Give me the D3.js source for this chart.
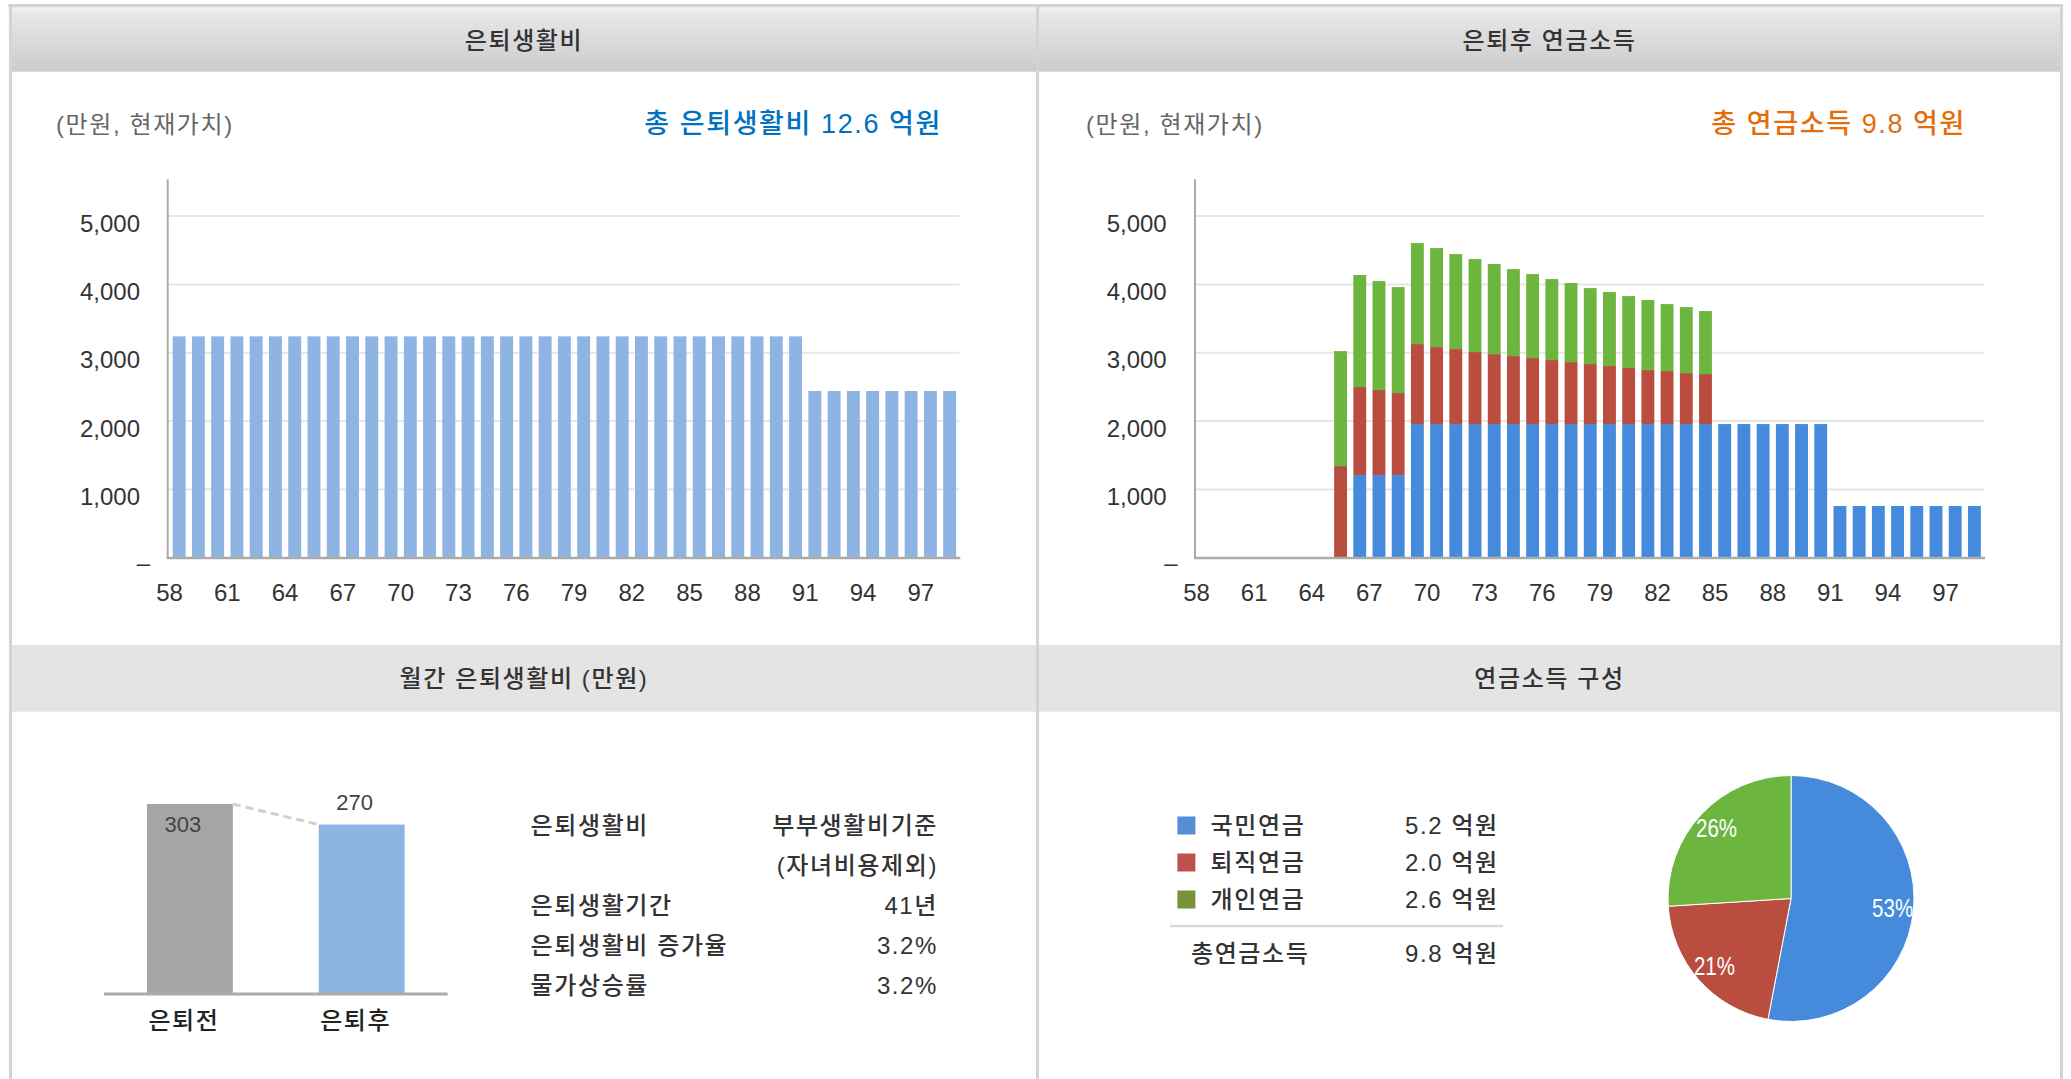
<!DOCTYPE html>
<html><head><meta charset="utf-8">
<script src="https://cdn.jsdelivr.net/npm/d3@7"></script>
<style>
html,body{margin:0;padding:0;background:#fff;}
svg{display:block;}
text{font-family:"Liberation Sans","Noto Sans CJK KR",sans-serif;fill:#333;}
.ko{letter-spacing:1.6px;font-weight:500;}
</style></head><body>
<svg id="c" width="2071" height="1079"></svg>
<script>
// ---------- data ----------
const ages = [58,59,60,61,62,63,64,65,66,67,68,69,70,71,72,73,74,75,76,77,78,79,80,81,82,83,84,85,86,87,88,89,90,91,92,93,94,95,96,97,98];
const xTickAges = [58,61,64,67,70,73,76,79,82,85,88,91,94,97];
const yTicks = [0,1000,2000,3000,4000,5000];
// 은퇴생활비 (만원, 현재가치)
const livingCost = [3240,3240,3240,3240,3240,3240,3240,3240,3240,3240,3240,3240,3240,3240,3240,3240,3240,3240,3240,3240,3240,3240,3240,3240,3240,3240,3240,3240,3240,3240,3240,3240,3240,2440,2440,2440,2440,2440,2440,2440,2440];
// 은퇴후 연금소득
const nationalPension = [0,0,0,0,0,0,0,0,1210,1210,1210,1956,1956,1956,1956,1956,1956,1956,1956,1956,1956,1956,1956,1956,1956,1956,1956,1956,1956,1956,1956,1956,1956,757,757,757,757,757,757,757,757];
const retirementPension = [0,0,0,0,0,0,0,1341,1288,1244,1200,1171,1127,1098,1054,1024,995,966,937,907,878,849,820,790,776,746,732,0,0,0,0,0,0,0,0,0,0,0,0,0,0];
const personalPension = [0,0,0,0,0,0,0,1683,1639,1595,1551,1478,1449,1390,1361,1318,1273,1229,1185,1157,1112,1083,1053,1025,980,966,922,0,0,0,0,0,0,0,0,0,0,0,0,0,0];
// 월간 은퇴생활비
const monthlyCats = ["은퇴전","은퇴후"];
const monthlyValues = [303, 270];
// 표
const infoLabels = ["은퇴생활비","","은퇴생활기간","은퇴생활비 증가율","물가상승률"];
const infoValues = ["부부생활비기준","(자녀비용제외)","41년","3.2%","3.2%"];
// 연금소득 구성
const pensionNames = ["국민연금","퇴직연금","개인연금"];
const pensionAmounts = ["5.2 억원","2.0 억원","2.6 억원"];
const pensionShares = [53, 21, 26];
const pensionTotalLabel = "총연금소득";
const pensionTotal = "9.8 억원";
const panelTitles = ["은퇴생활비","은퇴후 연금소득","월간 은퇴생활비 (만원)","연금소득 구성"];

// ---------- styles ----------
const C = {
  lightBlue:"#8DB4E2", gray:"#A6A6A6",
  blue:"#468BDB", red:"#B84D40", green:"#6CB640",
  legBlue:"#558ED5", legRed:"#C0504D", legGreen:"#77933C",
  border:"#D3D3D3", grid:"#E6E6E6", axis:"#ABABAB"
};
const FS = 24;

const svg = d3.select("#c");
const defs = svg.append("defs");
const grad = defs.append("linearGradient").attr("id","hdr").attr("x1",0).attr("y1",0).attr("x2",0).attr("y2",1);
grad.append("stop").attr("offset",0).attr("stop-color","#ececec");
grad.append("stop").attr("offset",0.04).attr("stop-color","#f3f3f3");
grad.append("stop").attr("offset",0.08).attr("stop-color","#e8e8e8");
grad.append("stop").attr("offset",1).attr("stop-color","#cbcbcb");

// headers
svg.append("rect").attr("x",10).attr("y",7).attr("width",2053).attr("height",64.7).attr("fill","url(#hdr)");
svg.append("rect").attr("x",10).attr("y",645).attr("width",2053).attr("height",66.7).attr("fill","#e4e4e4");
svg.append("rect").attr("x",8).attr("y",4).attr("width",2055).attr("height",3).attr("fill",C.border);
[10.5,1037.5,2061.5].forEach(x=>{
  svg.append("line").attr("x1",x).attr("x2",x).attr("y1",4).attr("y2",1079).attr("stroke",C.border).attr("stroke-width",3);
});
const titlePos = [[524,40],[1549.5,40],[524,678],[1549.5,678]];
svg.selectAll(".ptitle").data(panelTitles).join("text").attr("class","ptitle ko")
  .attr("x",(d,i)=>titlePos[i][0]).attr("y",(d,i)=>titlePos[i][1])
  .attr("text-anchor","middle").attr("dominant-baseline","central")
  .style("font-size","24px").style("fill","#333").text(d=>d);

// subtitles
[[56,"#0070C0",942,"총 은퇴생활비 12.6 억원"],[1086,"#E46C0A",1966,"총 연금소득 9.8 억원"]].forEach(([sx,col,rx,t])=>{
  svg.append("text").attr("class","ko").attr("x",sx).attr("y",124).attr("dominant-baseline","central")
    .style("font-size","24px").style("fill","#666").style("font-weight","400").text("(만원, 현재가치)");
  svg.append("text").attr("class","ko").attr("x",rx).attr("y",124).attr("dominant-baseline","central").attr("text-anchor","end")
    .style("font-size","27px").style("fill",col).text(t);
});

// ---------- bar chart frame ----------
function frame(axisX, x0, x1, labelRight, zeroRight) {
  const y = d3.scaleLinear().domain([0,5540]).range([557.7,179.2]);
  const x = d3.scaleBand().domain(ages).range([x0,x1]).paddingInner(0.33).paddingOuter(0.165);
  const g = svg.append("g");
  g.selectAll(".grid").data(yTicks.filter(d=>d>0)).join("line")
    .attr("x1",axisX).attr("x2",x1).attr("y1",d=>y(d)).attr("y2",d=>y(d))
    .attr("stroke",C.grid).attr("stroke-width",2);
  const ya = g.append("g").attr("transform",`translate(${labelRight},0)`)
    .call(d3.axisLeft(y).tickValues(yTicks).tickSize(0).tickPadding(0).tickFormat(d=>d===0?"–":d3.format(",")(d)));
  ya.select(".domain").remove();
  ya.selectAll("text").style("font-size",FS+"px").style("fill","#333")
    .attr("font-family",null)
    .attr("y",d=>d===0?5.1:7.3)
    .attr("x",d=>d===0?(zeroRight-labelRight):0);
  const xa = g.append("g").attr("transform",`translate(${-x.step()/2},593)`)
    .call(d3.axisBottom(x).tickValues(xTickAges).tickSize(0).tickPadding(0));
  xa.select(".domain").remove();
  xa.selectAll("text").style("font-size",FS+"px").style("fill","#333").attr("font-family",null).attr("y",0).attr("dy","0.35em");
  return {g,x,y};
}
function axisLines(g, axisX, x1, y) {
  g.append("line").attr("x1",axisX).attr("x2",axisX).attr("y1",y.range()[1]).attr("y2",y(0)+1)
    .attr("stroke",C.axis).attr("stroke-width",2);
  g.append("line").attr("x1",axisX-1).attr("x2",x1+1).attr("y1",y(0)+0.3).attr("y2",y(0)+0.3)
    .attr("stroke",C.axis).attr("stroke-width",2.4);
}

// left chart
{
  const {g,x,y} = frame(167.7,169.5,959.3,140,150);
  g.selectAll(".bar").data(ages.map((a,i)=>({a,v:livingCost[i]}))).join("rect")
    .attr("x",d=>x(d.a)).attr("width",x.bandwidth())
    .attr("y",d=>y(d.v)).attr("height",d=>y(0)-y(d.v)).attr("fill",C.lightBlue);
  axisLines(g,167.7,959.3,y);
}
// right chart
{
  const {g,x,y} = frame(1195,1196.5,1984,1166.7,1177.7);
  const rows = ages.map((a,i)=>({age:a,national:nationalPension[i],retirement:retirementPension[i],personal:personalPension[i]}));
  const series = d3.stack().keys(["national","retirement","personal"])(rows);
  const cols = [C.blue,C.red,C.green];
  g.selectAll(".s").data(series).join("g").attr("fill",(d,i)=>cols[i])
    .selectAll("rect").data(d=>d.filter(p=>p[1]-p[0]>0)).join("rect")
    .attr("x",d=>x(d.data.age)).attr("width",x.bandwidth())
    .attr("y",d=>y(d[1])).attr("height",d=>y(d[0])-y(d[1]));
  axisLines(g,1195,1984,y);
}

// ---------- monthly bars ----------
{
  const x = d3.scaleBand().domain(monthlyCats).range([104,447.6]).paddingInner(0.5).paddingOuter(0.25);
  const y = d3.scaleLinear().domain([0,400]).range([993,993-249.5]);
  const g = svg.append("g");
  const cols = [C.gray, C.lightBlue];
  g.selectAll("rect").data(monthlyValues).join("rect")
    .attr("x",(d,i)=>x(monthlyCats[i])).attr("width",x.bandwidth())
    .attr("y",d=>y(d)).attr("height",d=>y(0)-y(d)).attr("fill",(d,i)=>cols[i]);
  g.append("line")
    .attr("x1",x(monthlyCats[0])+x.bandwidth()).attr("y1",y(monthlyValues[0]))
    .attr("x2",x(monthlyCats[1])).attr("y2",y(monthlyValues[1]))
    .attr("stroke","#d0d0d0").attr("stroke-width",3).attr("stroke-dasharray","8,5");
  g.append("line").attr("x1",104).attr("x2",447.6).attr("y1",y(0)+1).attr("y2",y(0)+1)
    .attr("stroke",C.axis).attr("stroke-width",3);
  const lblY = [y(monthlyValues[1]), y(monthlyValues[0])-2];
  g.selectAll(".vl").data(monthlyValues).join("text")
    .attr("x",(d,i)=>x(monthlyCats[i])+x.bandwidth()/2-7).attr("y",(d,i)=>lblY[i])
    .attr("text-anchor","middle").attr("dominant-baseline","central")
    .style("font-size","22px").style("fill","#444").text(d=>d);
  g.selectAll(".cl").data(monthlyCats).join("text").attr("class","ko")
    .attr("x",d=>x(d)+x.bandwidth()/2-6).attr("y",1020)
    .attr("text-anchor","middle").attr("dominant-baseline","central")
    .style("font-size","24px").style("fill","#222").text(d=>d);
}

// info table
svg.selectAll(".il").data(infoLabels).join("text").attr("class","ko")
  .attr("x",530.6).attr("y",(d,i)=>825+i*40).attr("dominant-baseline","central")
  .style("font-size","24px").style("fill","#333").text(d=>d);
svg.selectAll(".iv").data(infoValues).join("text").attr("class","ko")
  .attr("x",938).attr("y",(d,i)=>825+i*40).attr("dominant-baseline","central").attr("text-anchor","end")
  .style("font-size","24px").style("fill","#333").text(d=>d);

// ---------- pension legend ----------
{
  const rowsY = [825.5,862.5,899.5];
  const lc = [C.legBlue,C.legRed,C.legGreen];
  svg.selectAll(".lsq").data(pensionNames).join("rect")
    .attr("x",1177.4).attr("y",(d,i)=>rowsY[i]-9).attr("width",18).attr("height",18).attr("fill",(d,i)=>lc[i]);
  svg.selectAll(".lnm").data(pensionNames).join("text").attr("class","ko")
    .attr("x",1210.6).attr("y",(d,i)=>rowsY[i]).attr("dominant-baseline","central")
    .style("font-size","24px").text(d=>d);
  svg.selectAll(".lam").data(pensionAmounts).join("text").attr("class","ko")
    .attr("x",1405).attr("y",(d,i)=>rowsY[i]).attr("dominant-baseline","central")
    .style("font-size","24px").text(d=>d);
  svg.append("line").attr("x1",1170).attr("x2",1503).attr("y1",926).attr("y2",926)
    .attr("stroke","#d9d9d9").attr("stroke-width",2.5);
  svg.append("text").attr("class","ko").attr("x",1191).attr("y",953).attr("dominant-baseline","central")
    .style("font-size","24px").text(pensionTotalLabel);
  svg.append("text").attr("class","ko").attr("x",1405).attr("y",953).attr("dominant-baseline","central")
    .style("font-size","24px").text(pensionTotal);
}

// ---------- pie ----------
{
  const cx = 1791, cy = 898.5, r = 123;
  const pie = d3.pie().sort(null).value(d=>d)(pensionShares);
  const arc = d3.arc().innerRadius(0).outerRadius(r);
  const lab = d3.arc().innerRadius(r*0.83).outerRadius(r*0.83);
  const g = svg.append("g").attr("transform",`translate(${cx},${cy})`);
  const cols = [C.blue,C.red,C.green];
  g.selectAll("path").data(pie).join("path").attr("d",arc).attr("fill",(d,i)=>cols[i])
    .attr("stroke","#fff").attr("stroke-width",1);
  g.selectAll("text").data(pie).join("text")
    .attr("transform",d=>`translate(${lab.centroid(d)}) scale(0.82,1)`)
    .attr("text-anchor","middle").attr("dominant-baseline","central")
    .style("font-size","25px").style("fill","#fff").text(d=>d.data+"%");
}
</script>
</body></html>
